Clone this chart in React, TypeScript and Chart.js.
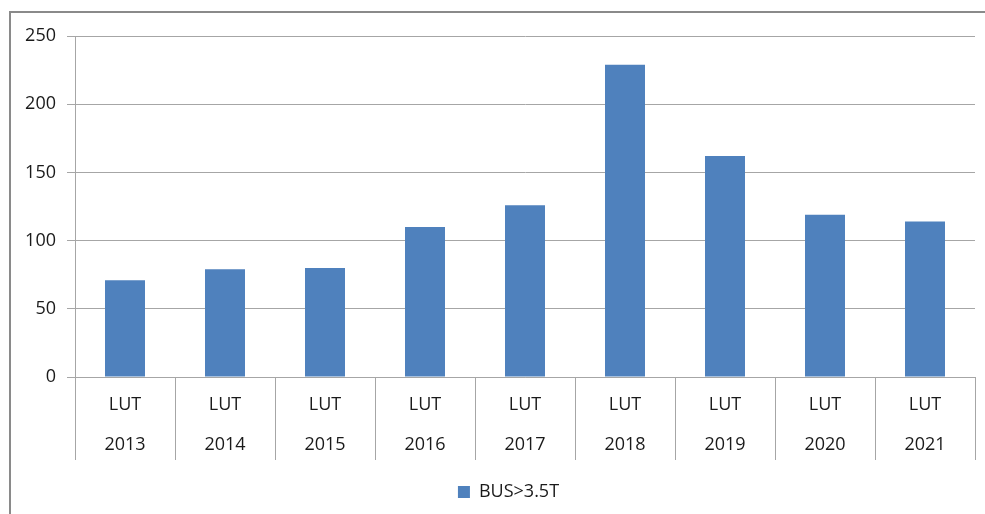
import React, { useEffect, useRef } from "react";
import { Chart, registerables } from "chart.js";

Chart.register(...registerables);

const categories = ["2013", "2014", "2015", "2016", "2017", "2018", "2019", "2020", "2021"];
const groupLabel = "LUT";
const seriesName = "BUS>3.5T";
const values = [71, 79, 80, 110, 126, 229, 162, 119, 114];
const yTicks = [0, 50, 100, 150, 200, 250];

const FONT = "'Open Sans', sans-serif";

const separatorPlugin = {
  id: "separators",
  afterLayout(chart: any) {
    if (chart.legend) {
      chart.legend.left += 21;
      chart.legend.right += 21;
    }
  },
  afterDraw(chart: any) {
    const x = chart.scales.x;
    const ctx = chart.ctx;
    const bottom = chart.chartArea.bottom;
    const n = categories.length;
    const half = (x.getPixelForValue(1) - x.getPixelForValue(0)) / 2;
    ctx.save();
    ctx.strokeStyle = "#a6a6a6";
    ctx.lineWidth = 1;
    for (let i = 0; i <= n; i++) {
      const px = Math.round(i < n ? x.getPixelForValue(i) - half : x.getPixelForValue(n - 1) + half) + 0.5;
      ctx.beginPath();
      ctx.moveTo(px, bottom);
      ctx.lineTo(px, bottom + 83);
      ctx.stroke();
    }
    ctx.restore();
  },
};

export default function App() {
  const ref = useRef<HTMLCanvasElement>(null);
  useEffect(() => {
    if (!ref.current) return;
    const chart = new Chart(ref.current, {
      type: "bar",
      data: {
        labels: categories.map((c) => [groupLabel, c]),
        datasets: [
          {
            label: seriesName,
            data: values,
            backgroundColor: "#4f81bd",
            categoryPercentage: 1,
            barPercentage: 0.4,
          },
        ],
      },
      options: {
        animation: false,
        responsive: false,
        maintainAspectRatio: false,
        layout: { padding: { top: 36, right: 10, left: 0, bottom: 3 } },
        plugins: {
          tooltip: { enabled: false },
          legend: {
            position: "bottom",
            labels: {
              boxWidth: 12,
              boxHeight: 12,
              padding: 10,
              color: "#1a1a1a",
              font: { family: FONT, size: 18 },
            },
          },
        },
        scales: {
          x: {
            grid: { display: false, drawTicks: false },
            border: { display: true, color: "#a6a6a6" },
            ticks: {
              padding: 8,
              color: "#1a1a1a",
              font: { family: FONT, size: 18, lineHeight: 40 / 18 },
              maxRotation: 0,
              autoSkip: false,
            },
            afterFit: (s: any) => {
              s.height = 96;
            },
          },
          y: {
            min: 0,
            max: 250,
            afterBuildTicks: (s: any) => {
              s.ticks = yTicks.map((v) => ({ value: v }));
            },
            grid: { color: "#a6a6a6", tickLength: 8, drawTicks: true },
            border: { display: true, color: "#a6a6a6" },
            ticks: {
              padding: 11,
              color: "#1a1a1a",
              font: { family: FONT, size: 18 },
            },
            afterFit: (s: any) => {
              s.width = 75;
            },
          },
        },
      },
      plugins: [separatorPlugin],
    });
    return () => chart.destroy();
  }, []);

  return (
    <div style={{ position: "fixed", left: 0, top: 0, width: 985, height: 514, overflow: "hidden", background: "#fff" }}>
      <div
        style={{
          position: "absolute",
          left: 9,
          top: 11,
          width: 1100,
          height: 700,
          border: "2px solid #8a8a8a",
          boxSizing: "border-box",
        }}
      />
      <canvas ref={ref} width={985} height={514} style={{ position: "absolute", left: 0, top: 0 }} />
    </div>
  );
}
